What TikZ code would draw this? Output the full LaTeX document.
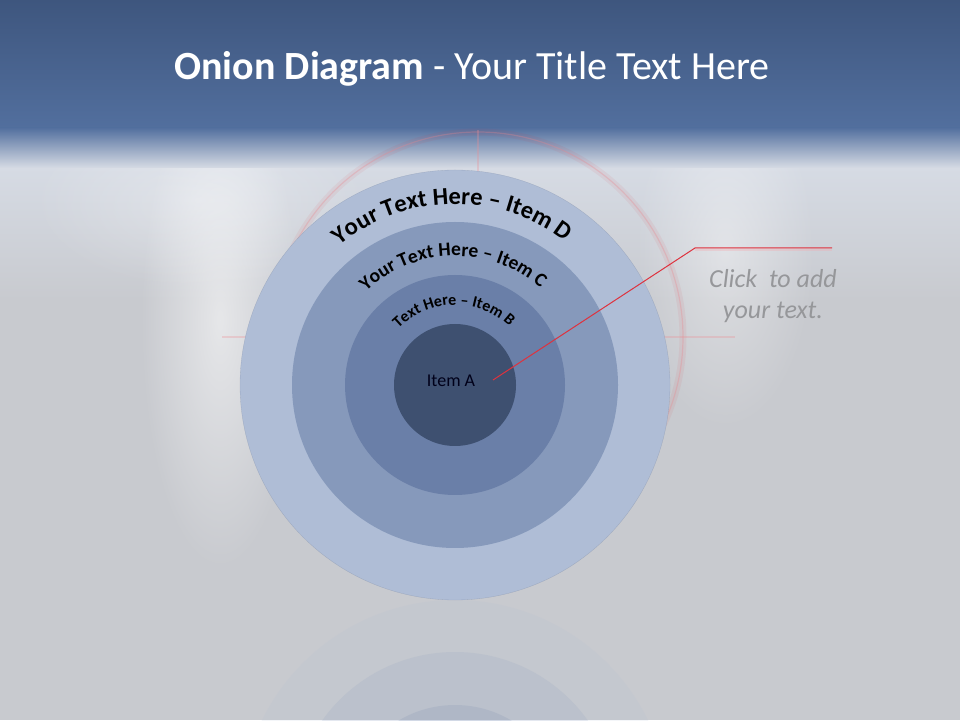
\documentclass[tikz,border=0pt]{standalone}
\usepackage{fontspec}
\setmainfont{Carlito}
\usepackage{tikz}
\usetikzlibrary{calc,decorations.text,fadings}
\tikzfading[name=glowfade, inner color=transparent!0, outer color=transparent!100]

\definecolor{bgGray}{RGB}{200,202,207}
\definecolor{bgLight}{RGB}{214,219,228}
\definecolor{bandTop}{RGB}{62,86,126}
\definecolor{bandBot}{RGB}{82,111,158}
\definecolor{ringD}{RGB}{175,189,214}
\definecolor{ringC}{RGB}{134,153,187}
\definecolor{ringB}{RGB}{106,127,168}
\definecolor{ringA}{RGB}{62,80,112}
\definecolor{calloutRed}{RGB}{222,50,62}
\definecolor{noteGray}{RGB}{150,151,154}

\begin{document}
\begin{tikzpicture}[x=1pt,y=1pt,
    arctext/.style 2 args={decorate,
      decoration={text along path, text align=center, text={|#1|#2}}},
    glow/.style={calloutRed!55!white, line width=2.5pt, opacity=0.3}]
    \useasboundingbox (0,0) rectangle (960,720);
    \clip (0,0) rectangle (960,720);
    \fill[bgGray] (0,0) rectangle (960,720);
    \shade[top color=bgLight, bottom color=bgGray] (0,420) rectangle (960,553);
    \begin{scope}
        \clip (0,0) rectangle (960,553);
        \fill[white, opacity=0.55, path fading=glowfade] (220,400) ellipse [x radius=80, y radius=250];
        \fill[white, opacity=0.3, path fading=glowfade] (200,520) ellipse [x radius=170, y radius=90];
        \fill[white, opacity=0.4, path fading=glowfade] (725,470) ellipse [x radius=90, y radius=180];
    \end{scope}
    \shade[top color=bandTop, bottom color=bandBot] (0,592) rectangle (960,720);
    \shade[top color=bandBot, bottom color=bgLight] (0,552) rectangle (960,592.5);

    \coordinate (ctr) at (455,335);
    \draw[calloutRed, opacity=0.07, line width=7pt] (478,383) circle[radius=205];
    \draw[calloutRed!60!white, opacity=0.3, line width=1.2pt] (478,383) circle[radius=205];
    \draw[glow] (478,590) -- (478,530);
    \draw[glow] (222,383) -- (300,383);
    \draw[glow] (630,383) -- (735,383);

    \foreach \r/\c in {215/ringD, 163/ringC, 110/ringB, 61/ringA}
        \fill[\c] (ctr) circle[radius=\r];
    \draw[ringC!80!black, line width=0.3pt, opacity=0.35] (ctr) circle[radius=215];
    \foreach \r/\c in {215/ringD, 163/ringC, 110/ringB, 61/ringA}
        \fill[\c, opacity=0.14] (455,-95) circle[radius=\r];

    \path[arctext={\fontsize{24.5}{25}\selectfont\bfseries}{Your Text Here – Item D}]
        (ctr) ++(181:181) arc[start angle=181, end angle=1, radius=181];
    \path[arctext={\fontsize{19.5}{20}\selectfont\bfseries}{Your Text Here – Item C}]
        (ctr) ++(181:129) arc[start angle=181, end angle=1, radius=129];
    \path[arctext={\fontsize{16}{16}\selectfont\bfseries}{Text Here – Item B}]
        (ctr) ++(181:80) arc[start angle=181, end angle=1, radius=80];
    \node[anchor=base, font=\fontsize{18}{20}\selectfont, text=black!90!blue] (itemA) at (451,333) {Item A};

    \node[anchor=base, text=white, font=\fontsize{40}{44}\selectfont] (title) at (472,640)
        {\textbf{Onion Diagram} - Your Title Text Here};
    \node[align=center, inner sep=0pt, text=noteGray, font=\fontsize{26}{31}\selectfont\itshape]
        (note) at (773,424) {Click\ \ to add\\your text.};

    \coordinate (tip) at (493,340);
    \coordinate (bend) at (695,472);
    \coordinate (lineEnd) at (832,472);
    \draw[calloutRed!40!white, line width=2.5pt, opacity=0.35] ([yshift=-1.5pt]bend) -- ([yshift=-1.5pt]lineEnd);
    \draw[calloutRed, line width=1pt] (tip) -- (bend) -- (lineEnd);
\end{tikzpicture}
\end{document}
